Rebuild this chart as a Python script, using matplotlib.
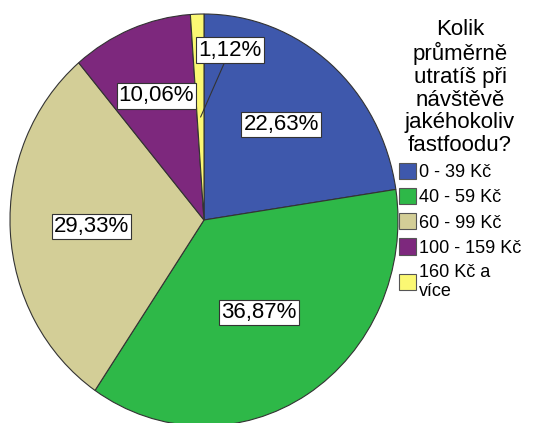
import numpy as np
import matplotlib.pyplot as plt

plt.rcParams['font.family'] = ['Liberation Sans', 'DejaVu Sans']

categories = ['0 - 39 Kč', '40 - 59 Kč', '60 - 99 Kč', '100 - 159 Kč', '160 Kč a\nvíce']
values = [22.63, 36.87, 29.33, 10.06, 1.12]
colors = ['#3E58AC', '#2EB848', '#D3CE97', '#7D287D', '#FBF873']
label_dist = [0.61, 0.53, 0.58, 0.65, None]
title = 'Kolik\nprůměrně\nutratíš při\nnávštěvě\njakéhokoliv\nfastfoodu?'

W, H = 554, 423
fig = plt.figure(figsize=(W / 100, H / 100), dpi=100)
ax = fig.add_axes([0, 0, 1, 1])

# pie centre / radii in pixels (the original is slightly squashed)
cx, cy, rx, ry = 204, 220, 194, 206

wedges, _ = ax.pie(values, colors=colors, startangle=90, counterclock=False,
                   wedgeprops=dict(edgecolor='#333333', linewidth=0.8))
ax.set_aspect('auto')
ax.set_xlim(-cx / rx, (W - cx) / rx)
ax.set_ylim(-(H - cy) / ry, cy / ry)
ax.axis('off')

box = dict(boxstyle='square,pad=0.1', fc='white', ec='#333333', lw=0.8)
for w, v, d in zip(wedges, values, label_dist):
    ang = np.deg2rad((w.theta1 + w.theta2) / 2)
    txt = f'{v:.2f}%'.replace('.', ',')
    if d is not None:
        ax.text(d * np.cos(ang), d * np.sin(ang), txt, ha='center', va='center',
                fontsize=16, bbox=box)
    else:
        ax.annotate(txt, xy=(0.5 * np.cos(ang), 0.5 * np.sin(ang)),
                    xytext=(0.134, 0.825), ha='center', va='center',
                    fontsize=16, bbox=box,
                    arrowprops=dict(arrowstyle='-', color='#333333', lw=0.8,
                                    shrinkA=0, shrinkB=0))

leg = fig.legend(wedges, categories, title=title, loc='upper left',
                 bbox_to_anchor=(399 / W, 1 - 19 / H), frameon=False,
                 fontsize=13, title_fontsize=16, handlelength=0.95,
                 handleheight=1.0, handletextpad=0.15, labelspacing=0.38,
                 borderpad=0, borderaxespad=0, alignment='center')
leg.get_title().set_linespacing(1.11)
leg.get_title().set_multialignment('center')
for h in leg.legend_handles:
    h.set_edgecolor('#555555')
    h.set_linewidth(0.8)

fig.savefig('out.png', dpi=100)
